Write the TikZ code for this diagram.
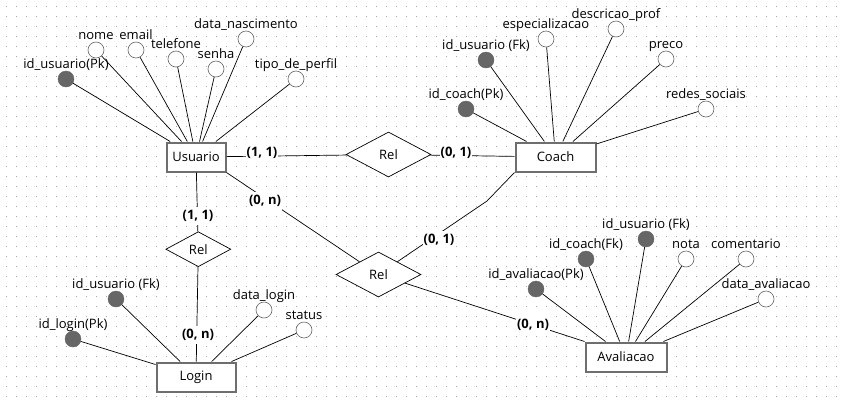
\documentclass[tikz,border=0pt]{standalone}
\usepackage{fontspec}
\setmainfont{Open Sans}
\usetikzlibrary{shapes.geometric}
\definecolor{boxgray}{HTML}{6E6E6E}
\definecolor{keygray}{HTML}{666666}
\definecolor{dotgray}{HTML}{A8A8A8}
\begin{document}
\begin{tikzpicture}[x=1pt,y=-1pt,
  every node/.style={font=\fontsize{13}{15}\selectfont},
  entity/.style={rectangle, draw=boxgray, line width=2pt, fill=white, minimum height=29pt, inner sep=0pt},
  rel/.style={diamond, draw=black, line width=0.7pt, fill=white, aspect=1.9, inner sep=0pt},
  keyattr/.style={circle, draw=keygray, fill=keygray, minimum size=16pt, inner sep=0pt,
     label={[anchor=base, inner sep=0pt, label distance=2pt]90:#1}},
  attr/.style={circle, draw=keygray, line width=0.6pt, fill=white, minimum size=16pt, inner sep=0pt,
     label={[anchor=base, inner sep=0pt, label distance=2pt]90:#1}},
  card/.style={font=\fontsize{13}{15}\selectfont\bfseries, fill=white, inner xsep=1pt, inner ysep=3pt},
  conn/.style={draw=black, line width=0.7pt}
]
\fill[white] (0,0) rectangle (844,400);
\useasboundingbox (0,0) rectangle (844,400);
% grid
\foreach \x in {6,16,...,836}{\foreach \y in {6,16,...,396}{\fill[dotgray] (\x,\y) rectangle ++(1,1);}}

% entities
\node[entity, minimum width=59pt] (usuario) at (196,157) {Usuario};
\node[entity, minimum width=80pt] (coach) at (555.5,157) {Coach};
\node[entity, minimum width=79pt] (login) at (196,377) {Login};
\node[entity, minimum width=81pt] (avaliacao) at (626,357) {Avaliacao};

% relationships
\node[rel, minimum width=85pt, minimum height=45pt] (rel1) at (388.5,154.5) {Rel};
\node[rel, minimum width=65pt, minimum height=35pt] (rel2) at (198.3,249.2) {Rel};
\node[rel, minimum width=85pt, minimum height=45pt] (rel3) at (378.5,274.5) {Rel};

% Usuario attributes
\node[keyattr={id\_usuario(Pk)}] (u1) at (66,79) {};
\node[attr={nome}] (u2) at (96,50) {};
\node[attr={email}] (u3) at (136,50) {};
\node[attr={telefone}] (u4) at (176,59) {};
\node[attr={senha}] (u5) at (216,69) {};
\node[attr={data\_nascimento}] (u6) at (246,39) {};
\node[attr={tipo\_de\_perfil}] (u7) at (296,79) {};

% Coach attributes
\node[keyattr={id\_usuario (Fk)}] (c1) at (486,60) {};
\node[attr={especializacao}] (c2) at (546,39) {};
\node[attr={descricao\_prof}] (c3) at (616,29) {};
\node[attr={preco}] (c4) at (666,59) {};
\node[attr={redes\_sociais}] (c5) at (706,109) {};
\node[keyattr={id\_coach(Pk)}] (c6) at (466,109) {};

% Login attributes
\node[keyattr={id\_usuario (Fk)}] (l1) at (116,299) {};
\node[keyattr={id\_login(Pk)}] (l2) at (73,339) {};
\node[attr={data\_login}] (l3) at (264,310) {};
\node[attr={status}] (l4) at (304,330) {};

% Avaliacao attributes
\node[keyattr={id\_avaliacao(Pk)}] (a1) at (536,289) {};
\node[keyattr={id\_coach(Fk)}] (a2) at (586,259) {};
\node[keyattr={id\_usuario (Fk)}] (a3) at (646,239) {};
\node[attr={nota}] (a4) at (686,259) {};
\node[attr={comentario}] (a5) at (746,259) {};
\node[attr={data\_avaliacao}] (a6) at (766,299) {};

\coordinate (bend) at (487,201);

% attribute connectors
\foreach \a in {u1,u2,u3,u4,u5,u6,u7}{\draw[conn] (\a) -- (usuario);}
\foreach \a in {c1,c2,c3,c4,c5,c6}{\draw[conn] (\a) -- (coach);}
\foreach \a in {l1,l2,l3,l4}{\draw[conn] (\a) -- (login);}
\foreach \a in {a1,a2,a3,a4,a5,a6}{\draw[conn] (\a) -- (avaliacao);}

% relationship connectors
\draw[conn] (usuario) -- (rel1);
\draw[conn] (rel1) -- (coach);
\draw[conn] (usuario) -- (rel2);
\draw[conn] (rel2) -- (login);
\draw[conn] (usuario.south east) -- (rel3);
\draw[conn] (coach.south west) -- (bend) -- (rel3);
\draw[conn] (rel3) -- (avaliacao.north west);

% cardinalities
\node[card] (k1) at (262,153) {(1, 1)};
\node[card] (k2) at (456,153) {(0, 1)};
\node[card] (k3) at (265,201) {(0, n)};
\node[card] (k4) at (198,216) {(1, 1)};
\node[card] (k5) at (198,335) {(0, n)};
\node[card] (k6) at (439,240) {(0, 1)};
\node[card] (k7) at (533,325) {(0, n)};
\end{tikzpicture}
\end{document}
